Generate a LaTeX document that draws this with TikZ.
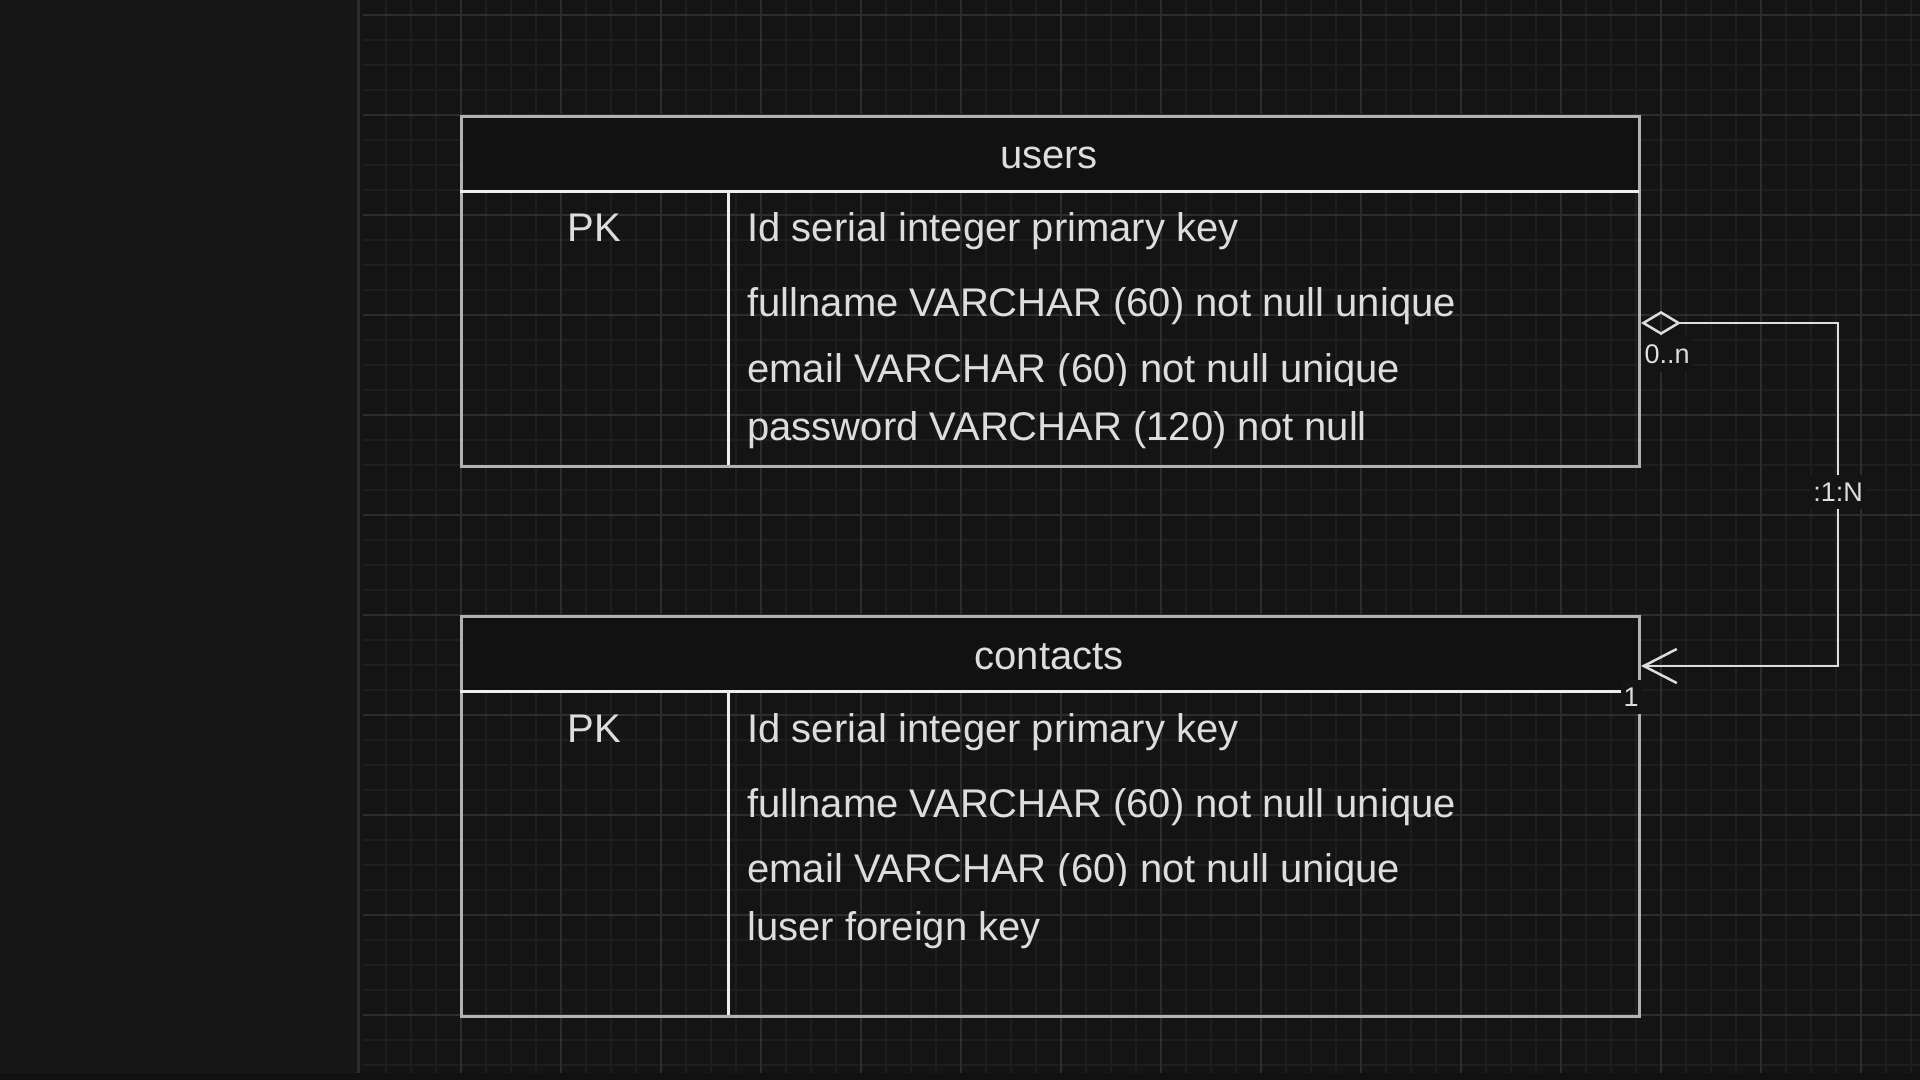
\documentclass[tikz,border=0pt]{standalone}
\usepackage{fontspec}
\setmainfont{Liberation Sans}
\usetikzlibrary{arrows.meta}

\definecolor{canvas}{HTML}{141414}
\definecolor{panel}{HTML}{171717}
\definecolor{strip}{HTML}{111111}
\definecolor{gridminor}{HTML}{1E1E1E}
\definecolor{gridmajor}{HTML}{2D2D2D}
\definecolor{frame}{HTML}{B2B2B2}
\definecolor{rule}{HTML}{EEEEEE}
\definecolor{ink}{HTML}{DDDDDD}
\definecolor{headfill}{HTML}{111111}

\begin{document}
\begin{tikzpicture}[x=0.5pt,y=-0.5pt,
    tablebox/.style={draw=frame,line width=1.5pt,inner sep=0pt,anchor=north west,minimum width=589pt},
    headbox/.style={fill=headfill,inner sep=0pt,anchor=north west,minimum width=589pt,minimum height=38pt},
    title/.style={text=ink,font=\fontsize{20}{24}\selectfont,anchor=base,inner sep=0pt},
    field/.style={text=ink,font=\fontsize{20}{24}\selectfont,anchor=base west,inner sep=0pt},
    card/.style={text=ink,font=\fontsize{13.5}{16}\selectfont,fill=canvas,inner xsep=1.5pt,inner ysep=4pt},
    link/.style={draw=ink,line width=1.25pt}]
    \useasboundingbox (0,0) rectangle (1920,1080);
    \fill[panel] (0,0) rectangle (1920,1080);
    \fill[canvas] (359,0) rectangle (1920,1073);
    \fill[strip] (0,1073) rectangle (1920,1080);
    \foreach \x in {386,411,...,1911} \draw[gridminor,line width=1pt] (\x,0) -- (\x,1073);
    \foreach \y in {15,40,...,1065} \draw[gridminor,line width=1pt] (363,\y) -- (1920,\y);
    \foreach \x in {461,561,...,1861} \draw[gridmajor,line width=1pt] (\x,0) -- (\x,1073);
    \foreach \y in {15,115,...,1015} \draw[gridmajor,line width=1pt] (363,\y) -- (1920,\y);
    \draw[gridmajor,line width=1.5pt] (358,0) -- (358,1073);

    % users
    \node (usershead) at (460,115) [headbox] {};
    \node (users) at (460,115) [tablebox,minimum height=175pt] {};
    \draw[rule,line width=1.5pt] (usershead.south west) -- (usershead.south east);
    \draw[rule,line width=1.5pt] (728,191) -- (728,465);
    \node (userstitle) at (1049,169) [title] {users};
    \node (userspk) at (594,242) [title] {PK};
    \node (usersid) at (747,242) [field] {Id serial integer primary key};
    \node (usersname) at (747,317) [field] {fullname VARCHAR (60) not null unique};
    \begin{scope}
        \clip (735,340) rectangle (1630,385);
        \node (usersmail) at (747,382) [field] {email VARCHAR (60) not null unique};
    \end{scope}
    \node (userspass) at (747,440) [field] {password VARCHAR (120) not null};

    % contacts
    \node (contactshead) at (460,615) [headbox] {};
    \node (contacts) at (460,615) [tablebox,minimum height=200pt] {};
    \draw[rule,line width=1.5pt] (contactshead.south west) -- (contactshead.south east);
    \draw[rule,line width=1.5pt] (728,691) -- (728,1015);
    \node (contactstitle) at (1049,669) [title] {contacts};
    \node (contactspk) at (594,742) [title] {PK};
    \node (contactsid) at (747,742) [field] {Id serial integer primary key};
    \node (contactsname) at (747,817) [field] {fullname VARCHAR (60) not null unique};
    \begin{scope}
        \clip (735,840) rectangle (1630,885);
        \node (contactsmail) at (747,882) [field] {email VARCHAR (60) not null unique};
    \end{scope}
    \node (contactsuser) at (747,940) [field] {luser foreign key};

    \coordinate (usersside) at (1641,323);
    \coordinate (contactsside) at (1641,666);
    \coordinate (bendtop) at (1838,323);
    \coordinate (bendbottom) at (1838,666);
    \draw[link,{Diamond[open,length=20pt,width=12pt]}-{Straight Barb[length=16.5pt,width=17pt]}] (usersside) -- (bendtop) -- (bendbottom) -- (contactsside);
    \node (many) at (1667,354) [card] {0..n};
    \node (ratio) at (1838,492) [card] {:1:N};
    \node (one) at (1631,697) [card] {1};
\end{tikzpicture}
\end{document}
